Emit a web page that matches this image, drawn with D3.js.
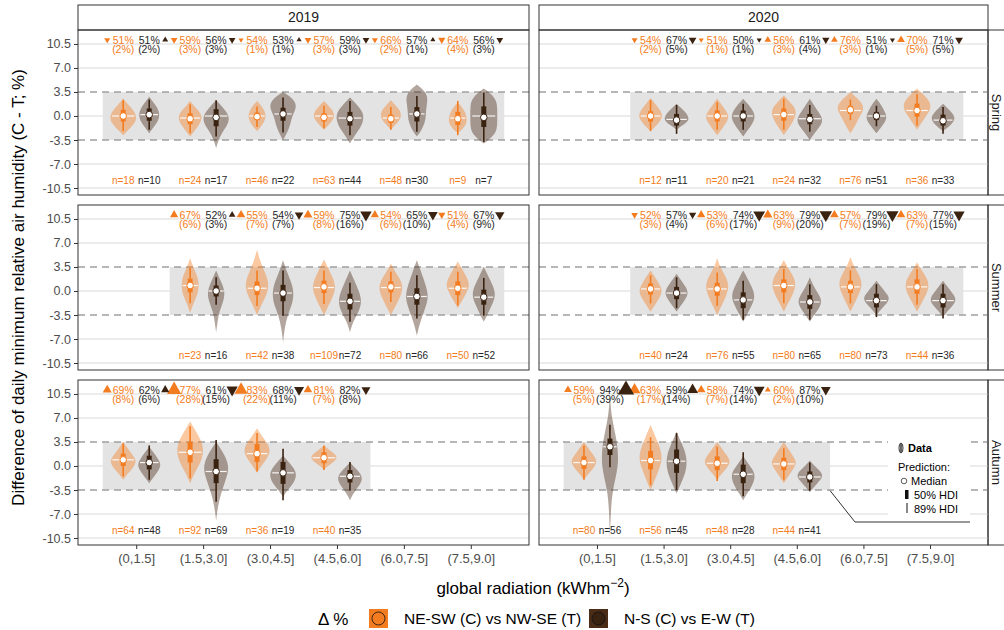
<!DOCTYPE html>
<html><head><meta charset="utf-8">
<script src="https://cdn.jsdelivr.net/npm/d3@7"></script>
<style>body{margin:0;background:#fff} text{font-family:"Liberation Sans",Arial,sans-serif}</style>
</head><body><svg id="c" width="1004" height="630"></svg>
<script>
// ---------------- data ----------------
const years = ["2019", "2020"];
const seasons = ["Spring", "Summer", "Autumn"];
const categories = ["(0,1.5]", "(1.5,3.0]", "(3.0,4.5]", "(4.5,6.0]", "(6.0,7.5]", "(7.5,9.0]"];
const yTicks = [-10.5, -7.0, -3.5, 0.0, 3.5, 7.0, 10.5];
const ropeLimits = [-3.5, 3.5];
const seriesNames = ["NE-SW (C) vs NW-SE (T)", "N-S (C) vs E-W (T)"];
// prediction rows: [median, hdi50 lo, hdi50 hi, hdi89 lo, hdi89 hi]
// violin rows: [lo, hi, data median, relative widths at 5 inner levels]

// 2019 Spring
const sp19_cats = [0, 1, 2, 3, 4, 5];
const sp19_ne_pred = [[0,-0.8,0.9,-2.2,2.3],[-0.4,-1.2,0.4,-2.5,1.7],[-0.1,-0.6,0.5,-1.6,1.4],[-0.2,-0.8,0.4,-1.8,1.5],[-0.4,-1,0.2,-2,1.3],[-0.4,-1.3,0.6,-2.8,2.2]];
const sp19_ns_pred = [[0.2,-0.7,1.1,-2,2.4],[-0.2,-1.5,1,-3,2.3],[0.3,-0.7,1.2,-2.4,2.7],[-0.4,-1.4,0.6,-2.8,2.2],[0.3,-0.8,1.3,-2.3,2.9],[-0.2,-1.6,1.4,-3.8,3.4]];
const sp19_ne_vio = [[-2.8,2.6,0,.4,.8,.9,.7,.3],[-3,2.2,-0.3,.3,.6,.8,.7,.3],[-2.2,2.2,0,.3,.5,.6,.5,.3],[-2,2.2,0,.3,.6,.7,.6,.3],[-2,2.3,-0.3,.3,.6,.7,.6,.3],[-2.5,2,-0.3,.4,.6,.6,.5,.3]];
const sp19_ns_vio = [[-2.5,2.8,0.2,.3,.6,.7,.6,.3],[-4.7,2.3,0,.15,.4,.8,.9,.5],[-3.5,3.5,0.3,.3,.5,.6,.9,.8],[-4,2.7,-0.3,.3,.7,.9,.9,.5],[-3,4.6,0.3,.4,.6,.6,.7,.7],[-4,4,0,.8,.9,.9,.9,.8]];
const sp19_ne_n = [18, 24, 46, 63, 48, 9];
const sp19_ns_n = [10, 17, 22, 44, 30, 7];
const sp19_ne_pct = [51, 59, 54, 57, 66, 64], sp19_ne_par = [2, 3, 1, 3, 2, 4], sp19_ne_dir = [-1, -1, -1, -1, -1, -1];
const sp19_ns_pct = [51, 56, 53, 59, 57, 56], sp19_ns_par = [2, 3, 1, 3, 1, 3], sp19_ns_dir = [1, -1, 1, -1, 1, -1];

// 2020 Spring
const sp20_cats = [1, 2, 3, 4, 5];
const sp20_ne_pred = [[0,-0.8,0.7,-2.2,2.3],[0,-0.8,0.8,-2,2],[0.2,-0.7,1.1,-2,2.5],[0.9,0.3,1.5,-0.6,2.4],[0.8,-0.1,1.8,-1.4,3.2]];
const sp20_ns_pred = [[-0.6,-1.4,0.3,-2.6,1.6],[0,-0.8,0.8,-2,1.8],[-0.5,-1.2,0.3,-2.3,1.6],[0,-0.6,0.6,-1.5,1.5],[-0.7,-1.4,0.2,-2.6,1.3]];
const sp20_ne_vio = [[-2.2,2.6,0,.4,.7,.8,.6,.3],[-2.8,2.5,0,.3,.6,.8,.6,.3],[-2.8,3,0.2,.3,.6,.8,.8,.4],[-2.5,3.5,0.8,.3,.5,.8,.9,.5],[-2,4,0.8,.3,.6,.9,.9,.5]];
const sp20_ns_vio = [[-2,1.8,-0.5,.4,.8,.8,.6,.3],[-3,2.5,0,.3,.6,.8,.7,.4],[-3.5,2.5,-0.4,.3,.7,.9,.6,.3],[-2.5,2.5,0,.3,.6,.7,.5,.3],[-2.2,1.8,-0.6,.4,.7,.8,.6,.3]];
const sp20_ne_n = [12, 20, 24, 76, 36];
const sp20_ns_n = [11, 21, 32, 51, 33];
const sp20_ne_pct = [54, 51, 56, 76, 70], sp20_ne_par = [2, 1, 3, 3, 5], sp20_ne_dir = [-1, -1, 1, 1, 1];
const sp20_ns_pct = [67, 50, 61, 51, 71], sp20_ns_par = [5, 1, 4, 1, 5], sp20_ns_dir = [-1, -1, -1, -1, -1];

// 2019 Summer
const su19_cats = [1, 2, 3, 4, 5];
const su19_ne_pred = [[0.8,-0.2,1.8,-1.8,3.4],[0.4,-0.6,1.4,-2.2,3],[0.6,-0.3,1.5,-1.9,3],[0.6,-0.2,1.4,-1.6,2.8],[0.4,-0.6,1.4,-2.1,2.8]];
const su19_ns_pred = [[0,-0.8,0.8,-2,2],[-0.3,-1.5,0.9,-3.6,3],[-1.5,-2.7,-0.4,-4.5,1.2],[-0.8,-2,0.4,-4,2.3],[-0.9,-2,0.2,-3.6,1.9]];
const su19_ne_vio = [[-3.2,4.8,0.8,.2,.5,.6,.5,.2],[-3.5,6,0.4,.3,.7,.8,.5,.2],[-3.5,4.6,0.5,.3,.6,.8,.6,.3],[-3.5,4,0.5,.3,.6,.8,.7,.3],[-2.5,4.3,0.4,.3,.6,.8,.6,.3]];
const su19_ns_vio = [[-6,3,0,.1,.2,.5,.6,.3],[-7.5,4.5,-0.3,.1,.3,.7,.7,.3],[-6,3,-1.5,.2,.6,.8,.6,.3],[-6.5,4.5,-0.8,.2,.5,.8,.6,.3],[-4.5,3.5,-0.9,.3,.6,.8,.6,.3]];
const su19_ne_n = [23, 42, 109, 80, 50];
const su19_ns_n = [16, 38, 72, 66, 52];
const su19_ne_pct = [67, 55, 59, 54, 51], su19_ne_par = [6, 7, 8, 6, 4], su19_ne_dir = [1, 1, 1, 1, -1];
const su19_ns_pct = [52, 54, 75, 65, 67], su19_ns_par = [3, 7, 16, 10, 9], su19_ns_dir = [1, -1, -1, -1, -1];

// 2020 Summer
const su20_cats = [1, 2, 3, 4, 5];
const su20_ne_pred = [[0.3,-0.5,1.1,-1.8,2.3],[0.3,-0.7,1.2,-2.2,2.7],[0.8,-0.2,1.7,-1.8,3.2],[0.6,-0.3,1.5,-1.8,3],[0.6,-0.4,1.7,-2,3.2]];
const su20_ns_pred = [[-0.3,-1.2,0.6,-2.5,2],[-1.3,-2.5,-0.2,-4.2,1.5],[-1.6,-2.6,-0.6,-4.2,1],[-1.4,-2.4,-0.4,-3.8,1],[-1.4,-2.4,-0.4,-4,1]];
const su20_ne_vio = [[-3,3,0.3,.3,.6,.8,.6,.3],[-3.5,4.8,0.3,.3,.6,.8,.6,.2],[-3,4.5,0.8,.3,.6,.8,.7,.3],[-3,5,0.6,.3,.6,.8,.6,.2],[-3,4.2,0.6,.3,.6,.8,.7,.3]];
const su20_ns_vio = [[-3,2.5,-0.3,.3,.6,.8,.6,.3],[-4.5,3,-1.3,.3,.6,.8,.6,.3],[-4.5,2,-1.6,.3,.7,.8,.5,.2],[-3.5,1.5,-1.4,.3,.7,.9,.6,.3],[-3.8,1.5,-1.4,.3,.7,.9,.6,.3]];
const su20_ne_n = [40, 76, 80, 80, 44];
const su20_ns_n = [24, 55, 65, 73, 36];
const su20_ne_pct = [52, 53, 63, 57, 63], su20_ne_par = [3, 6, 9, 7, 7], su20_ne_dir = [-1, 1, 1, 1, 1];
const su20_ns_pct = [57, 74, 79, 79, 77], su20_ns_par = [4, 17, 20, 19, 15], su20_ns_dir = [-1, -1, -1, -1, -1];

// 2019 Autumn
const au19_cats = [0, 1, 2, 3];
const au19_ne_pred = [[0.9,0,1.8,-1.5,3.3],[2,0.5,3.5,-1.8,5.8],[1.8,0.6,3.2,-0.8,4.8],[1.2,0.4,2,-0.6,3]];
const au19_ns_pred = [[0.5,-0.5,1.5,-2,3],[-0.8,-2.5,1,-5.2,3.8],[-1,-2.6,0.6,-5,2.5],[-1.5,-2.4,-0.6,-3.6,0.6]];
const au19_ne_vio = [[-2,3.5,0.9,.3,.7,.9,.6,.3],[-2.5,6.5,2,.3,.7,.9,.8,.4],[-1,5.5,1.8,.3,.7,.9,.7,.3],[-0.5,3,1.2,.3,.7,.9,.7,.3]];
const au19_ns_vio = [[-2.5,2.8,0.5,.3,.6,.8,.6,.3],[-8,3.5,-0.8,.1,.3,.6,.9,.6],[-4.5,1.5,-1,.3,.7,.9,.8,.4],[-5,0.5,-1.5,.2,.5,.8,.8,.4]];
const au19_ne_n = [64, 92, 36, 40];
const au19_ns_n = [48, 69, 19, 35];
const au19_ne_pct = [69, 77, 83, 81], au19_ne_par = [8, 28, 22, 7], au19_ne_dir = [1, 1, 1, 1];
const au19_ns_pct = [62, 61, 68, 82], au19_ns_par = [6, 15, 11, 8], au19_ns_dir = [1, -1, -1, -1];

// 2020 Autumn
const au20_cats = [0, 1, 2, 3];
const au20_ne_pred = [[0.5,-0.4,1.4,-2,3],[0.8,-0.5,2.2,-2.8,4.2],[0.4,-0.6,1.4,-2.2,2.8],[0.3,-0.6,1.2,-2,2.6]];
const au20_ns_pred = [[2.8,1.6,4,-0.2,6],[0.7,-1,2.4,-3.5,4.8],[-1.2,-2.5,0.2,-4.4,2],[-1.6,-2.4,-0.8,-3.6,0.5]];
const au20_ne_vio = [[-2,3.5,0.5,.3,.7,.9,.6,.3],[-3.5,6,0.8,.3,.6,.8,.6,.3],[-2,3.5,0.4,.3,.7,.9,.6,.3],[-2.5,3.5,0.3,.3,.6,.9,.6,.3]];
const au20_ns_vio = [[-10.5,10.5,2.8,.05,.15,.6,.5,.1],[-4,5,0.7,.3,.6,.7,.6,.3],[-5,1.5,-1.2,.3,.6,.8,.7,.3],[-3.8,0.8,-1.6,.3,.6,.9,.7,.3]];
const au20_ne_n = [80, 56, 48, 44];
const au20_ns_n = [56, 45, 28, 41];
const au20_ne_pct = [59, 63, 58, 60], au20_ne_par = [5, 17, 7, 2], au20_ne_dir = [1, 1, 1, 1];
const au20_ns_pct = [94, 59, 74, 87], au20_ns_par = [39, 14, 14, 10], au20_ns_dir = [1, 1, -1, -1];

// ---------------- assemble ----------------
function ser(pred, vio, n, pct, par, dir) { return {pred, vio, n, pct, par, dir}; }
const panels = [
  {col:0,row:0,cats:sp19_cats,s:[ser(sp19_ne_pred,sp19_ne_vio,sp19_ne_n,sp19_ne_pct,sp19_ne_par,sp19_ne_dir),ser(sp19_ns_pred,sp19_ns_vio,sp19_ns_n,sp19_ns_pct,sp19_ns_par,sp19_ns_dir)]},
  {col:1,row:0,cats:sp20_cats,s:[ser(sp20_ne_pred,sp20_ne_vio,sp20_ne_n,sp20_ne_pct,sp20_ne_par,sp20_ne_dir),ser(sp20_ns_pred,sp20_ns_vio,sp20_ns_n,sp20_ns_pct,sp20_ns_par,sp20_ns_dir)]},
  {col:0,row:1,cats:su19_cats,s:[ser(su19_ne_pred,su19_ne_vio,su19_ne_n,su19_ne_pct,su19_ne_par,su19_ne_dir),ser(su19_ns_pred,su19_ns_vio,su19_ns_n,su19_ns_pct,su19_ns_par,su19_ns_dir)]},
  {col:1,row:1,cats:su20_cats,s:[ser(su20_ne_pred,su20_ne_vio,su20_ne_n,su20_ne_pct,su20_ne_par,su20_ne_dir),ser(su20_ns_pred,su20_ns_vio,su20_ns_n,su20_ns_pct,su20_ns_par,su20_ns_dir)]},
  {col:0,row:2,cats:au19_cats,s:[ser(au19_ne_pred,au19_ne_vio,au19_ne_n,au19_ne_pct,au19_ne_par,au19_ne_dir),ser(au19_ns_pred,au19_ns_vio,au19_ns_n,au19_ns_pct,au19_ns_par,au19_ns_dir)]},
  {col:1,row:2,cats:au20_cats,s:[ser(au20_ne_pred,au20_ne_vio,au20_ne_n,au20_ne_pct,au20_ne_par,au20_ne_dir),ser(au20_ns_pred,au20_ns_vio,au20_ns_n,au20_ns_pct,au20_ns_par,au20_ns_dir)]}
];

// ---------------- layout ----------------
const svg = d3.select("#c");
const colX = [[78, 529], [539, 988]];
const rowY = [[30, 195], [205, 370], [380, 545]];
const lineCol = ["#f47c20", "#3a2211"];
const vioCol = ["#f47c20", "#4a2c17"];
const textCol = ["#f47c20", "#262626"];
const dodge = 13, vioW = 15;

const xs = colX.map(r => d3.scaleLinear().domain([-0.87, 5.87]).range(r));
const ys = rowY.map(r => d3.scaleLinear().domain([-11.52, 12.54]).range([r[1], r[0]]));
const triSide = d3.scaleSqrt().domain([0, 40]).range([3, 16.5]);

// strips top
years.forEach((yr, c) => {
  const [a, b] = colX[c];
  svg.append("rect").attr("x", a).attr("y", 5).attr("width", b - a).attr("height", 25)
    .attr("fill", "#fff").attr("stroke", "#333").attr("stroke-width", 1);
  svg.append("text").attr("x", (a + b) / 2).attr("y", 22).attr("text-anchor", "middle")
    .attr("font-size", 14).attr("fill", "#1a1a1a").text(yr);
});
// strips right
seasons.forEach((s, r) => {
  const [a, b] = rowY[r];
  svg.append("rect").attr("x", 988).attr("y", a).attr("width", 25).attr("height", b - a)
    .attr("fill", "#fff").attr("stroke", "#333").attr("stroke-width", 1);
  svg.append("text").attr("transform", `translate(992,${(a + b) / 2}) rotate(90)`)
    .attr("text-anchor", "middle").attr("font-size", 13).attr("fill", "#1a1a1a").text(s);
});

const area = d3.area().curve(d3.curveBasis);

panels.forEach(p => {
  const x = xs[p.col], y = ys[p.row];
  const [x0, x1] = colX[p.col];
  const g = svg.append("g");
  // grid
  yTicks.filter(t => Math.abs(t) !== 3.5).forEach(t => {
    g.append("line").attr("x1", x0).attr("x2", x1).attr("y1", y(t)).attr("y2", y(t))
      .attr("stroke", "#e6e6e6").attr("stroke-width", 1.3);
  });
  // rope rect
  const cmin = d3.min(p.cats), cmax = d3.max(p.cats);
  g.append("rect").attr("x", x(cmin - 0.5)).attr("width", x(cmax + 0.5) - x(cmin - 0.5))
    .attr("y", y(ropeLimits[1])).attr("height", y(ropeLimits[0]) - y(ropeLimits[1]))
    .attr("fill", "#e3e3e3");
  ropeLimits.forEach(t => {
    g.append("line").attr("x1", x0).attr("x2", x1).attr("y1", y(t)).attr("y2", y(t))
      .attr("stroke", "#a0a0a0").attr("stroke-width", 1.3).attr("stroke-dasharray", "7,5");
  });
  // series
  p.s.forEach((s, si) => {
    const off = si === 0 ? -dodge : dodge;
    p.cats.forEach((c, i) => {
      const cx = x(c) + off;
      const v = s.vio[i];
      const lo = v[0], hi = v[1], dm = v[2], ws = v.slice(3);
      const pts = [{v: lo, w: 0}];
      ws.forEach((w, k) => pts.push({v: lo + (hi - lo) * (k + 1) / (ws.length + 1), w}));
      pts.push({v: hi, w: 0});
      area.y(d => y(d.v)).x0(d => cx - d.w * vioW).x1(d => cx + d.w * vioW);
      g.append("path").attr("d", area(pts)).attr("fill", vioCol[si]).attr("fill-opacity", si === 0 ? 0.42 : 0.42);
      // data median line
      const wi = d3.scaleLinear().domain(pts.map(d => d.v)).range(pts.map(d => d.w))(dm) * 0.85;
      g.append("line").attr("x1", cx - wi * vioW).attr("x2", cx + wi * vioW).attr("y1", y(dm)).attr("y2", y(dm))
        .attr("stroke", "#fff").attr("stroke-width", 1.2).attr("stroke-opacity", 0.9);
      // HDI
      const pr = s.pred[i];
      g.append("line").attr("x1", cx).attr("x2", cx).attr("y1", y(pr[3])).attr("y2", y(pr[4]))
        .attr("stroke", lineCol[si]).attr("stroke-width", 1.6);
      g.append("line").attr("x1", cx).attr("x2", cx).attr("y1", y(pr[1])).attr("y2", y(pr[2]))
        .attr("stroke", lineCol[si]).attr("stroke-width", 5);
      g.append("circle").attr("cx", cx).attr("cy", y(pr[0])).attr("r", 3.3)
        .attr("fill", "#fff").attr("stroke", lineCol[si]).attr("stroke-width", 1);
      // n label
      g.append("text").attr("x", cx).attr("y", y(-9.4) + 4).attr("text-anchor", "middle")
        .attr("font-size", 10).attr("fill", textCol[si]).text("n=" + s.n[i]);
      // percent annotations
      g.append("text").attr("x", cx).attr("y", y(11.1) + 3.8).attr("text-anchor", "middle")
        .attr("font-size", 10.5).attr("fill", textCol[si]).text(s.pct[i] + "%");
      g.append("text").attr("x", cx).attr("y", y(9.75) + 3.8).attr("text-anchor", "middle")
        .attr("font-size", 10.5).attr("fill", textCol[si]).text("(" + s.par[i] + "%)");
      const side = triSide(s.par[i]);
      const tx = x(c) + (si === 0 ? -29 : 29);
      const sym = d3.symbol(d3.symbolTriangle, Math.sqrt(3) / 4 * side * side);
      g.append("path").attr("d", sym()).attr("fill", lineCol[si])
        .attr("transform", `translate(${tx},${y(11.1)}) rotate(${s.dir[i] > 0 ? 0 : 180})`);
    });
  });
  // border
  g.append("rect").attr("x", x0).attr("y", rowY[p.row][0]).attr("width", x1 - x0)
    .attr("height", rowY[p.row][1] - rowY[p.row][0]).attr("fill", "none").attr("stroke", "#333").attr("stroke-width", 1);
});

// y axes
rowY.forEach((r, ri) => {
  const ax = svg.append("g").attr("transform", `translate(${colX[0][0]},0)`)
    .call(d3.axisLeft(ys[ri]).tickValues(yTicks).tickSize(4).tickPadding(3).tickFormat(d => d.toFixed(1)));
  ax.select(".domain").remove();
  ax.selectAll("line").attr("stroke", "#333");
  ax.selectAll("text").attr("font-size", 12.5).attr("fill", "#4d4d4d").style("font-family", "Liberation Sans, Arial, sans-serif");
});
// x axes
xs.forEach((x, ci) => {
  const ax = svg.append("g").attr("transform", `translate(0,${rowY[2][1]})`)
    .call(d3.axisBottom(x).tickValues(d3.range(categories.length)).tickSize(4).tickPadding(5).tickFormat(i => categories[i]));
  ax.select(".domain").remove();
  ax.selectAll("line").attr("stroke", "#333");
  ax.selectAll("text").attr("font-size", 13).attr("fill", "#4d4d4d").style("font-family", "Liberation Sans, Arial, sans-serif");
});

// axis titles
const xt = svg.append("text").attr("x", (colX[0][0] + colX[1][1]) / 2).attr("y", 594)
  .attr("text-anchor", "middle").attr("font-size", 17).attr("fill", "#000");
xt.append("tspan").text("global radiation (kWhm");
xt.append("tspan").attr("dy", -7).attr("font-size", 12).text("\u22122");
xt.append("tspan").attr("dy", 7).text(")");
svg.append("text").attr("transform", `translate(24,${(rowY[0][0] + rowY[2][1]) / 2}) rotate(-90)`)
  .attr("text-anchor", "middle").attr("font-size", 17).attr("fill", "#000")
  .text("Difference of daily minimum relative air humidity (C - T; %)");

// bottom legend
svg.append("text").attr("x", 318).attr("y", 625).attr("font-size", 17).attr("fill", "#000").text("\u0394 %");
[[369, 0], [589, 1]].forEach(([lx, si]) => {
  svg.append("rect").attr("x", lx).attr("y", 609).attr("width", 19).attr("height", 19).attr("fill", si === 0 ? "#f47c20" : "#4a2c17");
  svg.append("circle").attr("cx", lx + 9.5).attr("cy", 618.5).attr("r", 6.5).attr("fill", si === 0 ? "#f47c20" : "#3a2211").attr("stroke", "#111").attr("stroke-width", 0.8);
  svg.append("text").attr("x", lx + 35).attr("y", 624).attr("font-size", 15.5).attr("fill", "#000").text(seriesNames[si]);
});

// inner legend (bottom right panel)
{
  const x = xs[1], y = ys[2];
  const lg = svg.append("g");
  lg.append("rect").attr("x", 888).attr("y", 425).attr("width", 82).attr("height", 95).attr("fill", "#fff");
  lg.append("path").attr("d", `M${x(3.5)},${y(-3.6)} L855,522 L970,522`).attr("fill", "none").attr("stroke", "#333").attr("stroke-width", 1);
  lg.append("ellipse").attr("cx", 901).attr("cy", 448).attr("rx", 2).attr("ry", 5).attr("fill", "none").attr("stroke", "#333").attr("stroke-width", 1);
  lg.append("line").attr("x1", 901).attr("x2", 901).attr("y1", 444).attr("y2", 452).attr("stroke", "#333").attr("stroke-width", 1.5);
  lg.append("text").attr("x", 908).attr("y", 452).attr("font-size", 11).attr("font-weight", "bold").text("Data");
  lg.append("text").attr("x", 898).attr("y", 471).attr("font-size", 11).text("Prediction:");
  lg.append("circle").attr("cx", 904).attr("cy", 481).attr("r", 2.8).attr("fill", "#fff").attr("stroke", "#333").attr("stroke-width", 0.8);
  lg.append("text").attr("x", 911).attr("y", 485).attr("font-size", 11).text("Median");
  lg.append("rect").attr("x", 905).attr("y", 490).attr("width", 3.5).attr("height", 9).attr("fill", "#111");
  lg.append("text").attr("x", 914).attr("y", 499).attr("font-size", 11).text("50% HDI");
  lg.append("line").attr("x1", 907).attr("x2", 907).attr("y1", 503).attr("y2", 513).attr("stroke", "#111").attr("stroke-width", 1);
  lg.append("text").attr("x", 914).attr("y", 513).attr("font-size", 11).text("89% HDI");
}
</script></body></html>
